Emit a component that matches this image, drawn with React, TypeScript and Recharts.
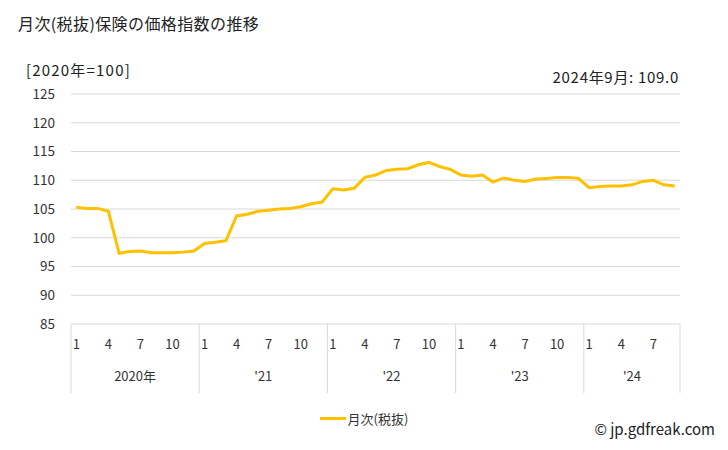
import { LineChart, Line, XAxis, YAxis, CartesianGrid } from 'recharts';

const years = ['2020年', "'21", "'22", "'23", "'24"];
const v2020 = [105.3, 105.1, 105.1, 104.6, 97.3, 97.6, 97.7, 97.4, 97.4, 97.4, 97.5, 97.7];
const v2021 = [99.0, 99.2, 99.5, 103.8, 104.1, 104.6, 104.8, 105.0, 105.1, 105.4, 105.9, 106.2];
const v2022 = [108.5, 108.3, 108.6, 110.5, 110.9, 111.7, 111.9, 112.0, 112.7, 113.1, 112.4, 111.9];
const v2023 = [110.9, 110.7, 110.9, 109.7, 110.4, 110.0, 109.8, 110.2, 110.3, 110.5, 110.5, 110.3];
const v2024 = [108.7, 108.9, 109.0, 109.0, 109.2, 109.8, 110.0, 109.2, 109.0];
const yTicks = [85, 90, 95, 100, 105, 110, 115, 120, 125];
const shownMonths = [1, 4, 7, 10];

const byYear = [v2020, v2021, v2022, v2023, v2024];
const data = byYear.flatMap((vals, yi) =>
  vals.map((v, mi) => ({ key: `${yi}-${mi + 1}`, year: yi, month: mi + 1, value: v })),
);

const FONT = '"Noto Sans CJK JP", "Noto Sans", sans-serif';
const COLOR = '#FFC000';

function MonthTick(props: any) {
  const { x, y, payload, index } = props;
  const d = data[index];
  if (!d) return null;
  const half = payload?.offset || 5.34;
  const band = half * 2;
  const count = byYear[d.year].length;
  return (
    <g>
      {shownMonths.includes(d.month) && (
        <text x={x} y={y + 25} textAnchor="middle" fontSize={13} fill="#333" fontFamily={FONT}>
          {d.month}
        </text>
      )}
      {d.month === 1 && (
        <>
          <line x1={x - half} x2={x - half} y1={y} y2={y + 69} stroke="#d9d9d9" />
          <text x={x - half + (count * band) / 2} y={y + 57} textAnchor="middle" fontSize={13} fill="#333" fontFamily={FONT}>
            {years[d.year]}
          </text>
        </>
      )}
      {index === data.length - 1 && (
        <line x1={x + half} x2={x + half} y1={y} y2={y + 69} stroke="#d9d9d9" />
      )}
    </g>
  );
}

export default function App() {
  return (
    <div style={{ position: 'relative', width: 728, height: 450, background: '#fff', fontFamily: FONT, color: '#222' }}>
      <style>{`body{margin:0}`}</style>
      <div style={{ position: 'absolute', left: 18, top: 11, fontSize: 16, letterSpacing: 0.4, whiteSpace: 'nowrap' }}>
        月次(税抜)保険の価格指数の推移
      </div>
      <div style={{ position: 'absolute', left: 26, top: 59, fontSize: 15, letterSpacing: 1.2, whiteSpace: 'nowrap' }}>
        [2020年=100]
      </div>
      <div style={{ position: 'absolute', right: 49, top: 66, fontSize: 15, letterSpacing: 0.7, whiteSpace: 'nowrap' }}>
        2024年9月: 109.0
      </div>
      <div style={{ position: 'absolute', right: 13, top: 418, fontSize: 15, whiteSpace: 'nowrap' }}>© jp.gdfreak.com</div>
      <div
        style={{
          position: 'absolute',
          left: 0,
          top: 409,
          width: 728,
          display: 'flex',
          justifyContent: 'center',
          alignItems: 'center',
          fontSize: 13,
          color: '#333',
        }}
      >
        <span style={{ display: 'inline-block', width: 26, height: 3, background: COLOR, marginRight: 2 }} />
        月次(税抜)
      </div>
      <LineChart width={728} height={450} data={data} margin={{ top: 94, right: 48, bottom: 56, left: 0 }}>
        <CartesianGrid vertical={false} stroke="#d9d9d9" />
        <XAxis
          dataKey="key"
          scale="band"
          interval={0}
          tickLine={false}
          axisLine={false}
          tickSize={0}
          tickMargin={0}
          height={70}
          tick={<MonthTick />}
        />
        <YAxis
          domain={[85, 125]}
          ticks={yTicks}
          width={71}
          tickLine={false}
          axisLine={false}
          tickMargin={10}
          tick={{ fontSize: 13.5, fill: '#333', fontFamily: FONT }}
        />
        <Line type="linear" dataKey="value" name="月次(税抜)" stroke={COLOR} strokeWidth={3} dot={false} isAnimationActive={false} />
      </LineChart>
    </div>
  );
}
